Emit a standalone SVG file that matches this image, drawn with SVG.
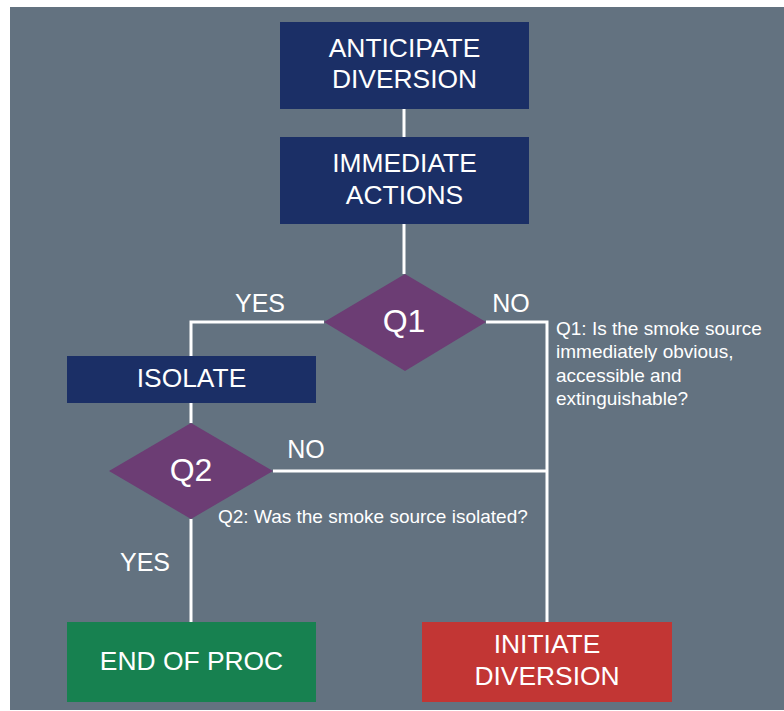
<svg xmlns="http://www.w3.org/2000/svg" width="784" height="711" viewBox="0 0 784 711">
<style>
.t{font-family:"Liberation Sans",Arial,sans-serif;fill:#ffffff;}
.box{font-size:26.4px;text-anchor:middle;}
.q{font-size:32px;text-anchor:middle;}
.lbl{font-size:25px;text-anchor:middle;}
.desc{font-size:19px;}
.c{stroke:#ffffff;stroke-width:3;fill:none;}
</style>
<rect x="0" y="0" width="784" height="711" fill="#ffffff"/>
<rect x="10" y="7" width="774" height="703" fill="#637280"/>
<g id="connectors">
<path class="c" d="M404,109 V137"/>
<path class="c" d="M404,224 V274"/>
<path class="c" d="M324,322 H191 V356"/>
<path class="c" d="M486,322 H547 V622"/>
<path class="c" d="M191,403 V423"/>
<path class="c" d="M273,471 H547"/>
<path class="c" d="M191,519 V622"/>
</g>
<g id="anticipate">
<rect x="280" y="22" width="249" height="87" fill="#1b2f66"/>
<text class="t box" x="404.5" y="57">ANTICIPATE</text>
<text class="t box" x="404.5" y="88">DIVERSION</text>
</g>
<g id="immediate">
<rect x="280" y="137" width="249" height="87" fill="#1b2f66"/>
<text class="t box" x="404.5" y="172">IMMEDIATE</text>
<text class="t box" x="404.5" y="204">ACTIONS</text>
</g>
<g id="q1">
<polygon points="405,274 486,322 405,371 324,322" fill="#6c3d74"/>
<text class="t q" x="404" y="332">Q1</text>
</g>
<g id="isolate">
<rect x="67" y="356" width="249" height="47" fill="#1b2f66"/>
<text class="t box" x="191.5" y="387">ISOLATE</text>
</g>
<g id="q2">
<polygon points="191,423 273,471 191,519 109,471" fill="#6c3d74"/>
<text class="t q" x="191" y="481">Q2</text>
</g>
<g id="end">
<rect x="67" y="622" width="249" height="80" fill="#178150"/>
<text class="t box" x="191.5" y="670">END OF PROC</text>
</g>
<g id="initiate">
<rect x="422" y="622" width="250" height="80" fill="#c23634"/>
<text class="t box" x="547" y="653">INITIATE</text>
<text class="t box" x="547" y="685">DIVERSION</text>
</g>
<g id="labels">
<text class="t lbl" x="260" y="312">YES</text>
<text class="t lbl" x="511" y="312">NO</text>
<text class="t lbl" x="306" y="458">NO</text>
<text class="t lbl" x="145" y="571">YES</text>
<text class="t desc" x="556" y="335">Q1: Is the smoke source</text>
<text class="t desc" x="556" y="358">immediately obvious,</text>
<text class="t desc" x="556" y="382">accessible and</text>
<text class="t desc" x="556" y="405">extinguishable?</text>
<text class="t desc" x="218" y="523">Q2: Was the smoke source isolated?</text>
</g>
</svg>
